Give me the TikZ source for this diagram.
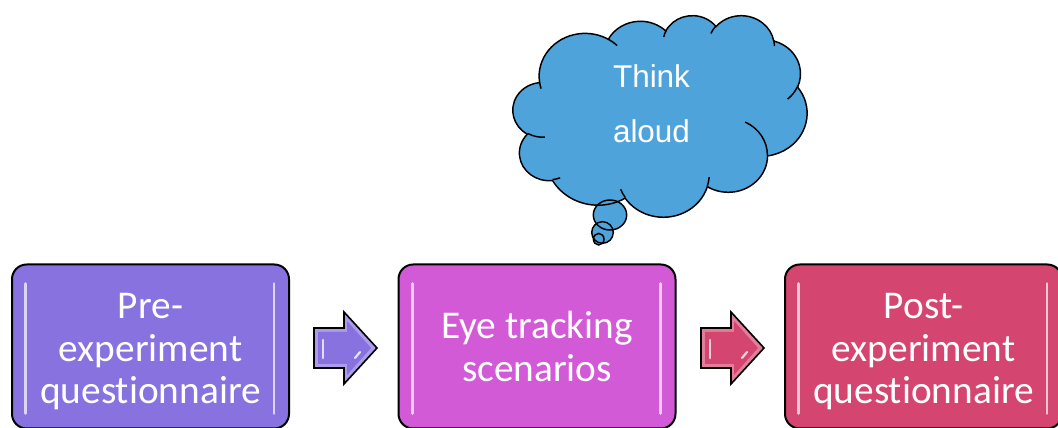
\documentclass[tikz,border=0pt]{standalone}
\usepackage{fontspec}
\setmainfont{Carlito}[Ligatures=CommonOff]
\newfontfamily\cloudfont{Liberation Sans}
\usetikzlibrary{calc}

\definecolor{boxA}{RGB}{136,114,224}
\definecolor{boxB}{RGB}{211,90,214}
\definecolor{boxC}{RGB}{212,70,112}
\definecolor{cloudblue}{RGB}{79,163,219}

% elliptical arc given as (x radius, y radius, start, sweep) with "visual" angles,
% measured clockwise on a y-down page (all in thousandths of the cloud frame)
\newcommand\ooarc[4]{arc[x radius={#1*5.10417pt}, y radius={#2*3.499pt},
  start angle={-ootheta(#1,#2,#3)}, delta angle={-oosweep(#1,#2,#3,#4)}]}

% outline of the thought cloud
\newcommand\cloudpath{(3.9,14.37)
  \ooarc{6.753}{9.19}{-190.4875}{123.7805}
  \ooarc{5.333}{7.267}{-144.1024}{89.9452}
  \ooarc{4.365}{5.945}{-145.8079}{99.723}
  \ooarc{4.857}{6.595}{-130.9861}{117.2417}
  \ooarc{5.333}{7.273}{-78.7089}{109.0269}
  \ooarc{6.775}{9.22}{-46.2673}{130.269}
  \ooarc{5.785}{7.867}{0.625}{114.0333}
  \ooarc{6.752}{9.215}{22.4516}{115.1726}
  \ooarc{7.72}{10.543}{66.2426}{75.711}
  \ooarc{4.36}{5.918}{-274.9421}{146.7356}
  \ooarc{4.345}{5.945}{-246.8285}{152.5189}
  -- cycle}

% block arrow: left end x, fill colour, head length
\newcommand\blockarrow[3]{%
  \path[arrowfill=#2] (#1,60) -- ++(30,0) -- ++(0,-16) -- ++(#3,36) -- ++(-#3,36)
     -- ++(0,-16) -- ++(-30,0) -- cycle;
  \path[fill=#2] (#1+4,64) -- (#1+33,64) -- (#1+33,53) -- (#1+24+#3,80) -- (#1+33,107)
     -- (#1+33,96) -- (#1+4,96) -- cycle;
  \draw[white!75!#2, line width=1.6pt, line cap=round] (#1+9,70) -- (#1+9,88);
  \draw[white!80!#2, line width=1.6pt, line cap=round] (#1+#3+8,70) -- (#1+#3+13,76);
}

\begin{document}
\begin{tikzpicture}[x=0.75pt,y=0.75pt,
  declare function={ootheta(\w,\h,\a)=atan2(\w*sin(\a),\h*cos(\a));
                     oosweep(\w,\h,\a,\s)=mod(ootheta(\w,\h,\a+\s)-ootheta(\w,\h,\a)+720,360);},
  stepbox/.style={draw=black, line width=1.5pt, rounded corners=11pt,
     minimum width=207.75pt, minimum height=123pt, inner sep=0pt},
  boxtext/.style={text=white, align=center, inner sep=0pt,
     font=\fontsize{29.5}{31.9}\selectfont},
  stripe/.style={line width=2.2pt, line cap=round, draw=white!70!#1},
  arrowfill/.style={fill=white!30!#1, draw=black, line width=1.2pt, line join=miter},
  cloudline/.style={draw=black, line width=1.1pt},
  cloudframe/.style={shift={(513,413)}, x=5.10417pt, y=-3.499pt},
]
\useasboundingbox (0,0) rectangle (1058,428);

% process steps
\node[stepbox, fill=boxA] (b1) at (150.5,81.5) {};
\node[stepbox, fill=boxB] (b2) at (537,81.5) {};
\node[stepbox, fill=boxC] (b3) at (923.5,81.5) {};

\foreach \b/\c in {b1/boxA, b2/boxB, b3/boxC}{
  \draw[stripe=\c] ([xshift=11,yshift=-15]\b.north west) -- ([xshift=11,yshift=12]\b.south west);
  \draw[stripe=\c] ([xshift=-12,yshift=-15]\b.north east) -- ([xshift=-12,yshift=12]\b.south east);
}

\node[boxtext] (t1) at ([yshift=-4]b1.center) {Pre-\\experiment\\questionnaire};
\node[boxtext] (t2) at ([yshift=0]b2.center) {Eye tracking\\scenarios};
\node[boxtext] (t3) at ([yshift=-4]b3.center) {Post-\\experiment\\questionnaire};

% arrows between the steps
\blockarrow{314}{boxA}{33}
\blockarrow{701}{boxC}{33}

% cloud, its creases and the trail of small bubbles
\begin{scope}[cloudframe]
\fill[cloudblue] \cloudpath;
\end{scope}
\fill[cloudblue] (610,213) ellipse [x radius=16.7, y radius=15];
\fill[cloudblue] (602.5,195.5) ellipse [x radius=10.8, y radius=10.8];
\fill[cloudblue] (598.7,188.8) ellipse [x radius=5.3, y radius=5.8];
\begin{scope}[cloudframe]
\draw[cloudline] \cloudpath;
\draw[cloudline]
  (4.693,26.177) \ooarc{4.345}{5.945}{86.742}{26.4295}
  (6.928,34.899) \ooarc{4.36}{5.918}{73.6105}{11.4475}
  (16.478,39.09) \ooarc{6.752}{9.215}{137.6242}{14.0811}
  (28.827,34.751) \ooarc{6.752}{9.215}{6.4533}{15.9984}
  (34.129,22.954) \ooarc{5.785}{7.867}{-70.2924}{70.9174}
  (41.798,15.354) \ooarc{5.333}{7.273}{30.318}{27.7515}
  (38.324,5.426) \ooarc{4.857}{6.595}{-13.7443}{14.8589}
  (29.078,3.952) \ooarc{4.857}{6.595}{-149.1815}{18.1954}
  (22.141,4.72) \ooarc{4.365}{5.945}{-163.4943}{17.6864}
  (14,5.192) \ooarc{6.753}{9.19}{-66.707}{12.3194}
  (4.127,15.789) \ooarc{6.753}{9.19}{157.6544}{11.8582};
\end{scope}
\draw[cloudline] (610,213) ellipse [x radius=16.7, y radius=15];
\draw[cloudline] (602.5,195.5) ellipse [x radius=10.8, y radius=10.8];
\draw[cloudline] (598.7,188.8) ellipse [x radius=5.3, y radius=5.8];

\node[text=white, align=center, inner sep=0pt, font=\cloudfont\fontsize{23.6}{41}\selectfont]
  (think) at (651.5,324.5) {Think\\aloud};
\end{tikzpicture}
\end{document}
